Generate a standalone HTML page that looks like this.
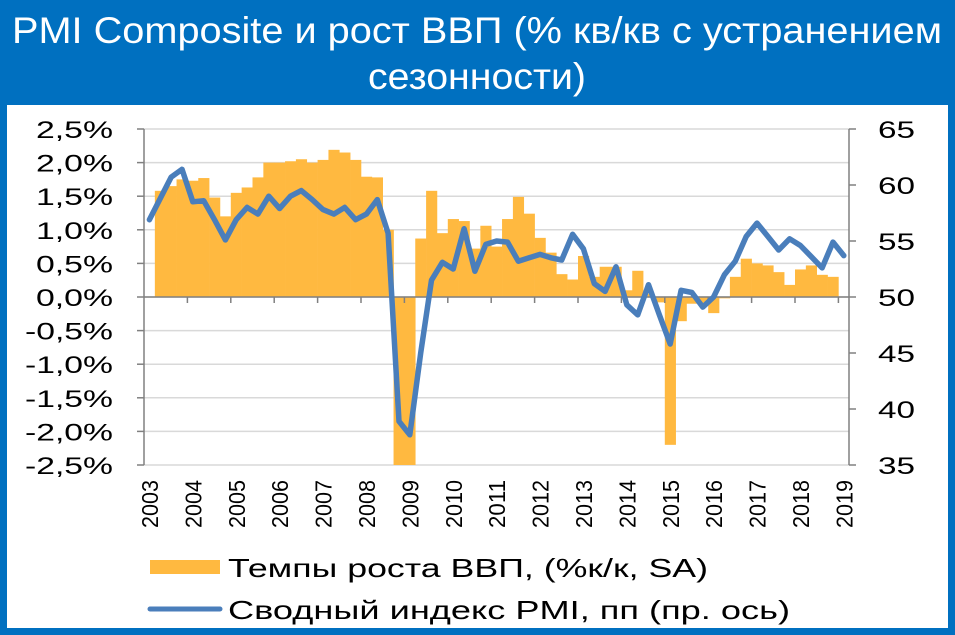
<!DOCTYPE html>
<html><head><meta charset="utf-8">
<style>
html,body{margin:0;padding:0;}
body{width:955px;height:635px;background:#0070C0;position:relative;overflow:hidden;font-family:"Liberation Sans",sans-serif;}
#panel{position:absolute;left:7px;top:105px;width:941px;height:523px;background:#fff;}
svg{position:absolute;left:0;top:0;}
</style></head><body>
<div id="panel"></div>
<svg id="chart" width="955" height="635">
<text x="477" y="43" text-anchor="middle" font-size="37" fill="#fff" textLength="930" lengthAdjust="spacingAndGlyphs">PMI Composite и рост ВВП (% кв/кв с устранением</text>
<text x="477" y="89" text-anchor="middle" font-size="37" fill="#fff" textLength="218" lengthAdjust="spacingAndGlyphs">сезонности)</text>
</svg>
<script>
const years = ["2003","2004","2005","2006","2007","2008","2009","2010","2011","2012","2013","2014","2015","2016","2017","2018","2019"];
const leftTicks = [2.5,2.0,1.5,1.0,0.5,0.0,-0.5,-1.0,-1.5,-2.0,-2.5];
const leftTickLabels = ["2,5%","2,0%","1,5%","1,0%","0,5%","0,0%","-0,5%","-1,0%","-1,5%","-2,0%","-2,5%"];
const rightTicks = [65,60,55,50,45,40,35];
const gdp = [0,1.58,1.65,1.75, 1.73,1.77,1.48,1.2, 1.55,1.63,1.78,2.0, 2.0,2.02,2.05,2.0, 2.04,2.19,2.15,2.04, 1.79,1.78,1.0,-2.6, -2.6,0.87,1.58,0.95, 1.16,1.13,0.72,1.06, 0.75,1.16,1.49,1.24, 0.88,0.66,0.34,0.26, 0.61,0.3,0.45,0.45, 0.1,0.39,0.05,-0.08, -2.2,-0.36,-0.1,-0.1, -0.24,-0.02,0.3,0.57, 0.5,0.47,0.37,0.18, 0.41,0.47,0.33,0.3];
const pmi = [56.9,58.8,60.7,61.4, 58.5,58.6,56.9,55.1, 56.9,58.0,57.4,59.0, 57.9,59.0,59.5,58.7, 57.8,57.4,58.0,56.9, 57.4,58.7,55.7,38.9, 37.7,45.0,51.5,53.1, 52.5,56.1,52.3,54.7, 55.0,54.9,53.2,53.5, 53.8,53.5,53.3,55.6, 54.3,51.2,50.5,52.7, 49.3,48.4,51.1,48.4, 45.8,50.6,50.4,49.1, 50.0,52.0,53.2,55.4, 56.6,55.4,54.2,55.2, 54.6,53.6,52.6,54.9, 53.7];

const NS="http://www.w3.org/2000/svg";
const svg=document.getElementById('chart');
const X0=144, YW=43.4, QW=YW/4, XR=849;
const yL=v=>297-v*67.2;
const yR=v=>297-(v-50)*11.2;
const xQ=i=>X0+i*QW;
function mk(tag,attrs,parent){const e=document.createElementNS(NS,tag);for(const k in attrs)e.setAttribute(k,attrs[k]);(parent||svg).appendChild(e);return e;}

leftTicks.forEach((v,i)=>{
  const g=mk('line',{x1:X0,x2:XR,y1:yL(v),y2:yL(v),stroke:'#d9d9d9','stroke-width':1.5});
  
  
  const t=mk('line',{x1:X0-7,x2:X0,y1:yL(v),y2:yL(v),stroke:'#808080','stroke-width':1.5});
  
  
  const lab=leftTickLabels[i];
  const tx=mk('text',{x:113,y:yL(v)+9,'text-anchor':'end','font-size':24,fill:'#000',textLength:(lab.length===5?88:77),lengthAdjust:'spacingAndGlyphs'});
  tx.textContent=lab;
  
  
});
gdp.forEach((v,i)=>{
  if(v===0)return;
  const vv=Math.max(v,-2.5);
  const y1=yL(Math.max(vv,0)), y2=yL(Math.min(vv,0));
  const r=mk('rect',{x:xQ(i),y:y1,width:QW+0.3,height:y2-y1,fill:'#FFB940'});
  
  
});
const la=mk('line',{x1:X0,x2:X0,y1:yL(2.5),y2:yL(-2.5),stroke:'#808080','stroke-width':1.5});


const ra=mk('line',{x1:XR,x2:XR,y1:yR(65),y2:yR(35),stroke:'#808080','stroke-width':1.5});


const xa=mk('line',{x1:X0,x2:XR,y1:297,y2:297,stroke:'#808080','stroke-width':1.5});


rightTicks.forEach(v=>{
  const t=mk('line',{x1:XR,x2:XR+7,y1:yR(v),y2:yR(v),stroke:'#808080','stroke-width':1.5});
  
  
  const tx=mk('text',{x:878,y:yR(v)+9,'font-size':24,fill:'#000',textLength:37,lengthAdjust:'spacingAndGlyphs'});
  tx.textContent=String(v);
  
  
});
years.forEach((yr,i)=>{
  const x=X0+i*YW;
  if(i>0){
    const t=mk('line',{x1:x,x2:x,y1:297,y2:303,stroke:'#808080','stroke-width':1.5});
    
    
  }
  const tx=mk('text',{x:0,y:0,'font-size':23,fill:'#000','text-anchor':'middle',textLength:48,lengthAdjust:'spacingAndGlyphs',transform:`translate(${x+14},504) rotate(-90)`});
  tx.textContent=yr;
  
  
});
const pts=pmi.map((v,i)=>`${(xQ(i)+QW/2).toFixed(1)},${yR(v).toFixed(1)}`).join(' ');
const pl=mk('polyline',{points:pts,fill:'none',stroke:'#4A7EBB','stroke-width':5.5,'stroke-linejoin':'round','stroke-linecap':'round'});


const lr=mk('rect',{x:150,y:560,width:70,height:14,fill:'#FFB940'});


const lt1=mk('text',{x:228,y:577,'font-size':26,fill:'#000',textLength:480,lengthAdjust:'spacingAndGlyphs'});
lt1.textContent='Темпы роста ВВП, (%к/к, SA)';


const ll=mk('line',{x1:150,x2:220,y1:609,y2:609,stroke:'#4A7EBB','stroke-width':5,'stroke-linecap':'round'});


const lt2=mk('text',{x:228,y:619,'font-size':26,fill:'#000',textLength:562,lengthAdjust:'spacingAndGlyphs'});
lt2.textContent='Сводный индекс  PMI, пп (пр. ось)';
lt2.setAttribute('xml:space','preserve');


</script>
</body></html>
